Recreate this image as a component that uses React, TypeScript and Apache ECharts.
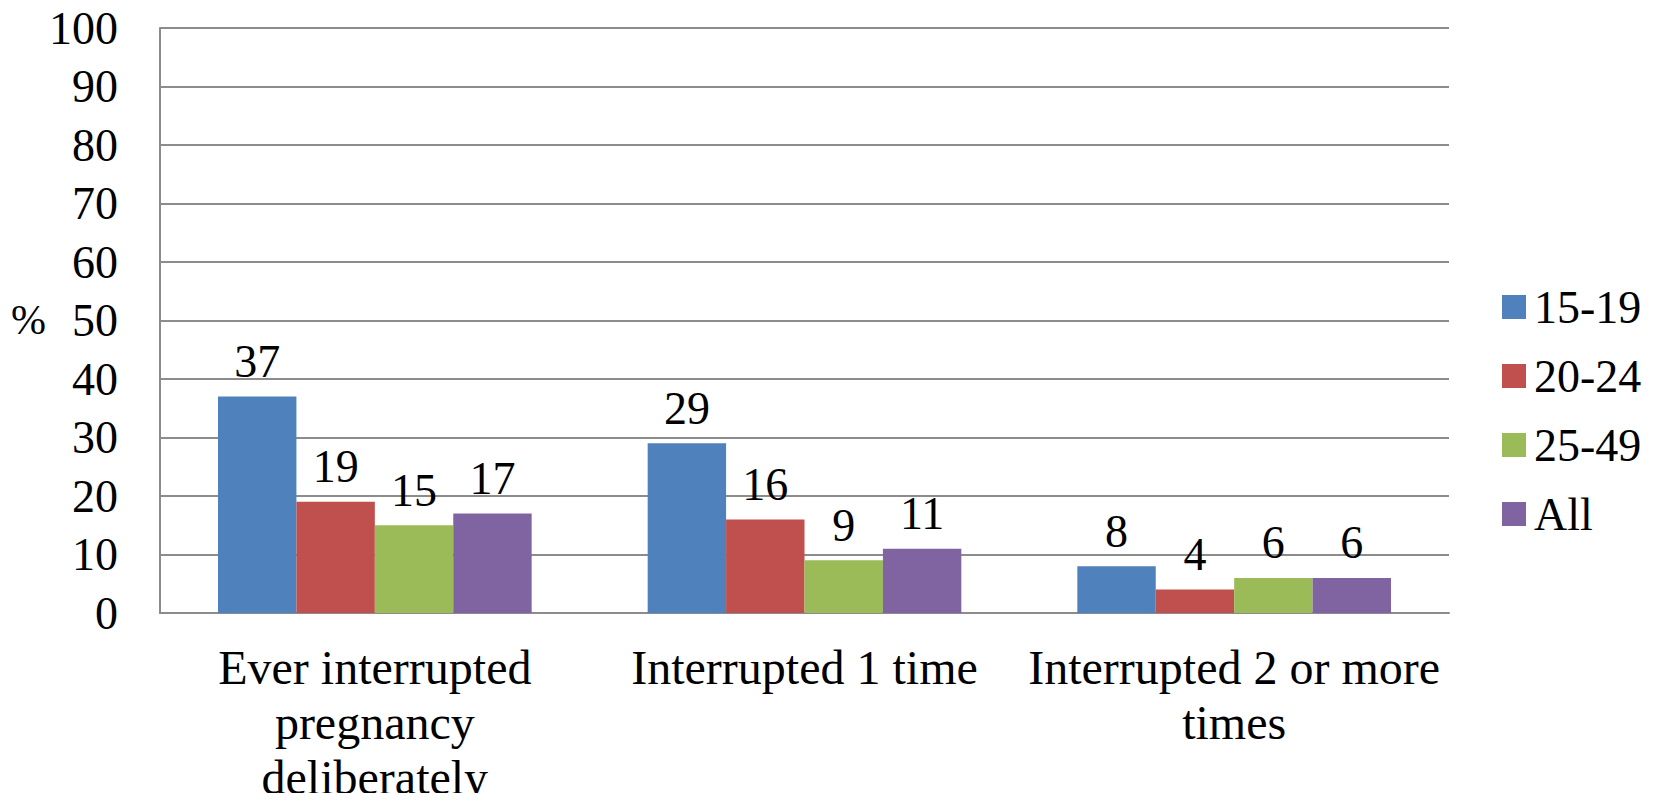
import React, { useEffect, useRef } from "react";
import * as echarts from "echarts";

const categories = [
  "Ever interrupted\npregnancy\ndeliberately",
  "Interrupted 1 time",
  "Interrupted 2 or more\ntimes",
];
const seriesNames = ["15-19", "20-24", "25-49", "All"];
const values15_19 = [37, 29, 8];
const values20_24 = [19, 16, 4];
const values25_49 = [15, 9, 6];
const valuesAll = [17, 11, 6];
const yTicks = { min: 0, max: 100, interval: 10 };
const colors = ["#4F81BD", "#C0504D", "#9BBB59", "#8064A2"];

const FONT = "Liberation Serif";

export default function App() {
  const ref = useRef<HTMLDivElement>(null);
  useEffect(() => {
    if (!ref.current) return;
    const chart = echarts.init(ref.current, null, { renderer: "svg" });
    const data = [values15_19, values20_24, values25_49, valuesAll];
    chart.setOption({
      animation: false,
      backgroundColor: "#ffffff",
      textStyle: { fontFamily: FONT },
      grid: { left: 160, top: 28, width: 1289, height: 585, outerBoundsMode: "none", containLabel: false },
      legend: {
        orient: "vertical",
        left: 1497,
        top: 279,
        itemWidth: 24,
        itemHeight: 24,
        itemGap: 23,
        icon: "rect",
        textStyle: { fontFamily: FONT, fontSize: 46, color: "#000", lineHeight: 46, padding: [0, 0, 0, 3] },
        data: seriesNames,
      },
      graphic: [
        {
          type: "text",
          left: 11,
          top: 320 - 23,
          style: { text: "%", fontFamily: FONT, fontSize: 42, fill: "#000", lineHeight: 46 },
        },
      ],
      xAxis: {
        type: "category",
        data: categories,
        axisLine: { show: true, lineStyle: { color: "#8c8c8c", width: 2 } },
        axisTick: { show: false },
        axisLabel: {
          fontFamily: FONT,
          fontSize: 48,
          color: "#000",
          lineHeight: 55,
          margin: 27,
          interval: 0,
        },
      },
      yAxis: {
        type: "value",
        min: yTicks.min,
        max: yTicks.max,
        interval: yTicks.interval,
        axisLine: { show: true, lineStyle: { color: "#8c8c8c", width: 2 } },
        axisTick: { show: false },
        splitLine: { lineStyle: { color: "#8c8c8c", width: 2 } },
        axisLabel: { fontFamily: FONT, fontSize: 46, color: "#000", margin: 42 },
      },
      series: seriesNames.map((name, i) => ({
        name,
        type: "bar",
        data: data[i],
        barGap: "0%",
        barCategoryGap: "27%",
        itemStyle: { color: colors[i] },
        label: {
          show: true,
          position: "top",
          distance: 12,
          fontFamily: FONT,
          fontSize: 46,
          color: "#000",
        },
      })),
    });
    return () => chart.dispose();
  }, []);
  return <div ref={ref} style={{ width: 1655, height: 801, margin: -8 }} />;
}
